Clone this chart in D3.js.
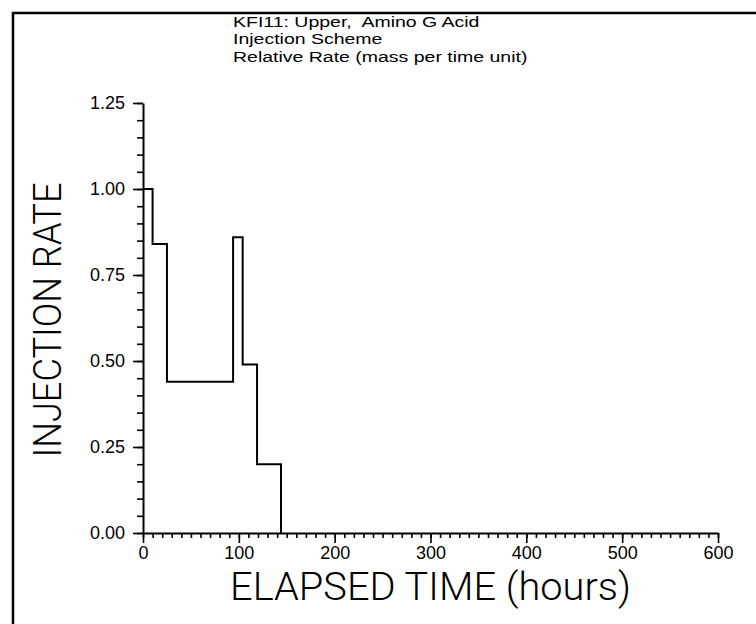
<!DOCTYPE html>
<html>
<head>
<meta charset="utf-8">
<script src="https://cdn.jsdelivr.net/npm/d3@7"></script>
<style>
  html, body { margin: 0; padding: 0; background: #fff; }
  svg { display: block; }
  text { fill: #000; }
</style>
</head>
<body>
<svg id="chart" width="756" height="624"></svg>
<script>
// ---- data ----
const stepTimes  = [0, 10, 25, 94, 104, 119, 144];      // hours where rate changes
const stepRates  = [1.00, 0.84, 0.44, 0.86, 0.49, 0.20, 0.00]; // relative injection rate
const xTicks     = [0, 100, 200, 300, 400, 500, 600];
const yTicks     = [0.00, 0.25, 0.50, 0.75, 1.00, 1.25];
const titleLines = ["KFI11: Upper,  Amino G Acid", "Injection Scheme", "Relative Rate (mass per time unit)"];
const xLabel = "ELAPSED TIME (hours)";
const yLabel = "INJECTION RATE";

// ---- layout ----
const svg = d3.select("#chart");
const x = d3.scaleLinear().domain([0, 600]).range([143, 718]);
const y = d3.scaleLinear().domain([0, 1.25]).range([533, 103]);

// frame (top + left)
svg.append("path")
  .attr("d", "M13,624 L13,13 L756,13")
  .attr("fill", "none").attr("stroke", "#000").attr("stroke-width", 2.5);

// minor ticks
const xMinor = d3.range(0, 601, 10);
const yMinor = d3.range(0, 1.2501, 0.05);

const gx = svg.append("g").attr("transform", `translate(0,${y(0)})`);
gx.call(d3.axisBottom(x).tickValues(xMinor).tickSize(5).tickFormat(""))
  .call(g => g.select(".domain").remove());
gx.append("g").call(d3.axisBottom(x).tickValues(xTicks).tickSize(10).tickSizeOuter(0).tickPadding(3).tickFormat(d3.format("d")));

const gy = svg.append("g").attr("transform", `translate(${x(0)},0)`);
gy.call(d3.axisLeft(y).tickValues(yMinor).tickSize(6).tickFormat(""))
  .call(g => g.select(".domain").remove());
gy.append("g").call(d3.axisLeft(y).tickValues(yTicks).tickSize(10).tickSizeOuter(0).tickPadding(8).tickFormat(d3.format(".2f")));

svg.selectAll(".domain").attr("stroke", "#000").attr("stroke-width", 2);
svg.selectAll(".tick line").attr("stroke", "#000").attr("stroke-width", 1.6);
svg.selectAll(".tick text")
  .attr("font-family", "'Liberation Sans', Arial, sans-serif")
  .attr("font-size", 18).attr("fill", "#000");

// step line
const pts = stepTimes.map((t, i) => [t, stepRates[i]]);
svg.append("path")
  .datum(pts)
  .attr("fill", "none").attr("stroke", "#000").attr("stroke-width", 2)
  .attr("d", d3.line().x(d => x(d[0])).y(d => y(d[1])).curve(d3.curveStepAfter));

// title (wide, light lettering like the plotter font)
svg.append("g").attr("transform", "translate(233,0) scale(1.3,1)")
  .selectAll("text").data(titleLines).join("text")
  .attr("x", 0).attr("y", (d, i) => 27 + i * 17.5)
  .attr("font-family", "'Liberation Sans', Arial, sans-serif")
  .attr("font-size", 15)
  .style("white-space", "pre")
  .text(d => d);

// axis titles
svg.append("text")
  .attr("x", (x(0) + x(600)) / 2).attr("y", 600)
  .attr("text-anchor", "middle")
  .attr("font-family", "Roboto, 'DejaVu Sans', sans-serif")
  .attr("font-weight", 300)
  .attr("font-size", 38)
  .attr("textLength", 401).attr("lengthAdjust", "spacingAndGlyphs")
  .text(xLabel);

svg.append("text")
  .attr("transform", `translate(61,320) rotate(-90)`)
  .attr("text-anchor", "middle")
  .attr("font-family", "Roboto, 'DejaVu Sans', sans-serif")
  .attr("font-weight", 300)
  .attr("font-size", 38)
  .attr("textLength", 275).attr("lengthAdjust", "spacingAndGlyphs")
  .text(yLabel);
</script>
</body>
</html>
